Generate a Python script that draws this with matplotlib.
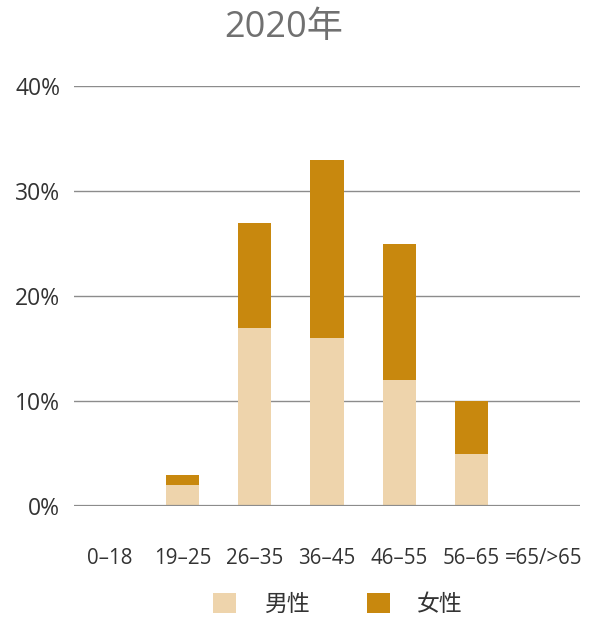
import matplotlib
matplotlib.use("Agg")
import matplotlib.pyplot as plt
from matplotlib.patches import Patch

categories = ["0–18", "19–25", "26–35", "36–45", "46–55", "56–65", "=65/>65"]
male = [0, 2, 17, 16, 12, 5, 0]
female = [0, 1, 10, 17, 13, 5, 0]
yticks = [0, 10, 20, 30, 40]
ytick_labels = ["0%", "10%", "20%", "30%", "40%"]
title = "2020年"
series_names = ["男性", "女性"]

male_color = "#EED4AC"
female_color = "#C8880E"
fonts = ["Open Sans", "Noto Sans CJK SC", "DejaVu Sans"]
plt.rcParams["font.family"] = fonts

fig = plt.figure(figsize=(5.93, 6.17), dpi=100)
ax = fig.add_axes([74/593, 1-506/617, (580-74)/593, (506-86)/617])

x = list(range(len(categories)))
ax.bar(x, male, width=0.46, color=male_color, zorder=3)
ax.bar(x, female, width=0.46, bottom=male, color=female_color, zorder=3)

ax.set_xlim(-0.5, len(categories) - 0.5)
ax.set_ylim(0, 40)
ax.set_yticks(yticks)
ax.set_yticklabels(ytick_labels)
ax.set_xticks(x)
ax.set_xticklabels(categories)
ax.yaxis.grid(True, color="#8c8c8c", linewidth=1.0, zorder=0)
ax.axhline(0, color="#8c8c8c", linewidth=1.6, zorder=4)
for s in ax.spines.values():
    s.set_visible(False)
ax.tick_params(axis="both", length=0, labelsize=14.8, colors="#333333")
ax.tick_params(axis="y", pad=10)
ax.tick_params(axis="x", pad=30)
for lbl in ax.get_yticklabels():
    lbl.set_fontsize(16.5)

fig.text(284/593, 1-28/617, title, ha="center", va="center", fontsize=26, color="#707070")

handles = [Patch(facecolor=male_color, edgecolor="none"), Patch(facecolor=female_color, edgecolor="none")]
leg = fig.legend(handles, series_names, loc="center", bbox_to_anchor=(338/593, 1-605/617), ncol=2,
                 frameon=False, fontsize=16.5, handlelength=1.0, handleheight=1.0,
                 handletextpad=1.2, columnspacing=2.5)
for t in leg.get_texts():
    t.set_color("#333333")

fig.savefig("out.png", dpi=100)
